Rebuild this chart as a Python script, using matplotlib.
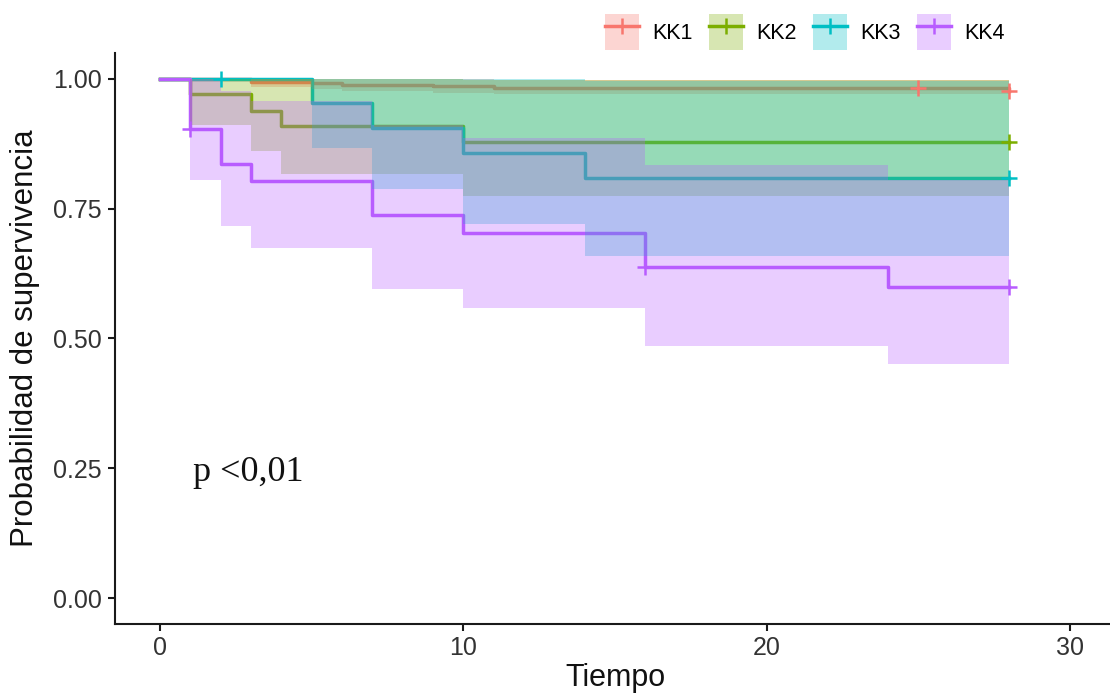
import matplotlib
matplotlib.use("Agg")
import matplotlib.pyplot as plt
from matplotlib.patches import Patch
from matplotlib.lines import Line2D
from matplotlib.legend_handler import HandlerTuple

# Kaplan-Meier estimates (step functions, post)
groups = ["KK1", "KK2", "KK3", "KK4"]
colors = ["#F8766D", "#7CAE00", "#00BFC4", "#B85CFF"]

kk1_time = [0, 3, 5, 6, 9, 11, 28]
kk1_surv = [1.0, 0.994, 0.992, 0.989, 0.986, 0.983, 0.977]
kk1_lower = [1.0, 0.984, 0.980, 0.976, 0.973, 0.970, 0.963]
kk1_upper = [1.0, 1.0, 1.0, 1.0, 0.999, 0.997, 0.993]
kk1_cens_t = [25, 28]
kk1_cens_s = [0.983, 0.977]

kk2_time = [0, 1, 3, 4, 10, 28]
kk2_surv = [1.0, 0.970, 0.939, 0.909, 0.879, 0.879]
kk2_lower = [1.0, 0.912, 0.862, 0.817, 0.775, 0.775]
kk2_upper = [1.0, 1.0, 1.0, 1.0, 0.998, 0.998]
kk2_cens_t = [28]
kk2_cens_s = [0.879]

kk3_time = [0, 5, 7, 10, 14, 28]
kk3_surv = [1.0, 0.953, 0.906, 0.857, 0.810, 0.810]
kk3_lower = [1.0, 0.866, 0.788, 0.720, 0.659, 0.659]
kk3_upper = [1.0, 1.0, 1.0, 1.0, 0.996, 0.996]
kk3_cens_t = [2, 28]
kk3_cens_s = [1.0, 0.810]

kk4_time = [0, 1, 2, 3, 7, 10, 16, 24, 28]
kk4_surv = [1.0, 0.903, 0.837, 0.804, 0.737, 0.704, 0.637, 0.600, 0.600]
kk4_lower = [1.0, 0.806, 0.716, 0.675, 0.596, 0.558, 0.486, 0.450, 0.450]
kk4_upper = [1.0, 1.0, 0.977, 0.958, 0.911, 0.886, 0.834, 0.805, 0.805]
kk4_cens_t = [1, 16, 28]
kk4_cens_s = [0.903, 0.637, 0.600]

x_ticks = [0, 10, 20, 30]
y_ticks = [0.0, 0.25, 0.50, 0.75, 1.00]
y_ticklabels = ["0.00", "0.25", "0.50", "0.75", "1.00"]

curves = [
    (kk1_time, kk1_surv, kk1_lower, kk1_upper, kk1_cens_t, kk1_cens_s),
    (kk2_time, kk2_surv, kk2_lower, kk2_upper, kk2_cens_t, kk2_cens_s),
    (kk3_time, kk3_surv, kk3_lower, kk3_upper, kk3_cens_t, kk3_cens_s),
    (kk4_time, kk4_surv, kk4_lower, kk4_upper, kk4_cens_t, kk4_cens_s),
]

plt.rcParams["font.family"] = ["Liberation Sans", "DejaVu Sans"]

fig = plt.figure(figsize=(11.1, 6.94), dpi=100)
ax = fig.add_axes([0.1032, 0.1009, 0.9018, 0.8228])

for (t, s, lo, up, ct, cs), col in zip(curves, colors):
    ax.step(t, s, where="post", color=col, lw=2.5, zorder=2)
    ax.fill_between(t, lo, up, step="post", color=col, alpha=0.3,
                    lw=0, zorder=3)
    ax.plot(ct, cs, ls="none", marker="+", ms=11, mew=1.8, color=col,
            zorder=4)

ax.set_xlim(-1.5, 31.5)
ax.set_ylim(-0.05, 1.05)
ax.set_xticks(x_ticks)
ax.set_yticks(y_ticks)
ax.set_yticklabels(y_ticklabels)

for side in ["top", "right"]:
    ax.spines[side].set_visible(False)
for side in ["left", "bottom"]:
    ax.spines[side].set_linewidth(1.5)
    ax.spines[side].set_color("#1a1a1a")
ax.tick_params(axis="both", length=5, width=1.5, color="#1a1a1a",
               labelsize=18, labelcolor="#333333", pad=4)

ax.set_xlabel("Tiempo", fontsize=22, color="#111111")
ax.set_ylabel("Probabilidad de supervivencia", fontsize=22.5, color="#111111")
ax.xaxis.set_label_coords(0.5, -0.068)
ax.yaxis.set_label_coords(-0.074, 0.5)

ax.text(1.1, 0.226, "p <0,01", family=["Liberation Serif", "DejaVu Serif"],
        fontsize=26, ha="left", va="baseline", color="#111111")

handles = []
for col in colors:
    patch = Patch(facecolor=col, alpha=0.3, edgecolor="none")
    line = Line2D([], [], color=col, lw=2.5, marker="+", ms=12, mew=1.8)
    handles.append((patch, line))
fig.legend(handles, groups, loc="center", bbox_to_anchor=(0.725, 0.954),
           ncol=4, frameon=False, fontsize=15.5,
           handler_map={tuple: HandlerTuple(ndivide=1)},
           handlelength=1.6, handleheight=2.2, handletextpad=0.6,
           columnspacing=0.75)

fig.savefig("out.png", dpi=100)
